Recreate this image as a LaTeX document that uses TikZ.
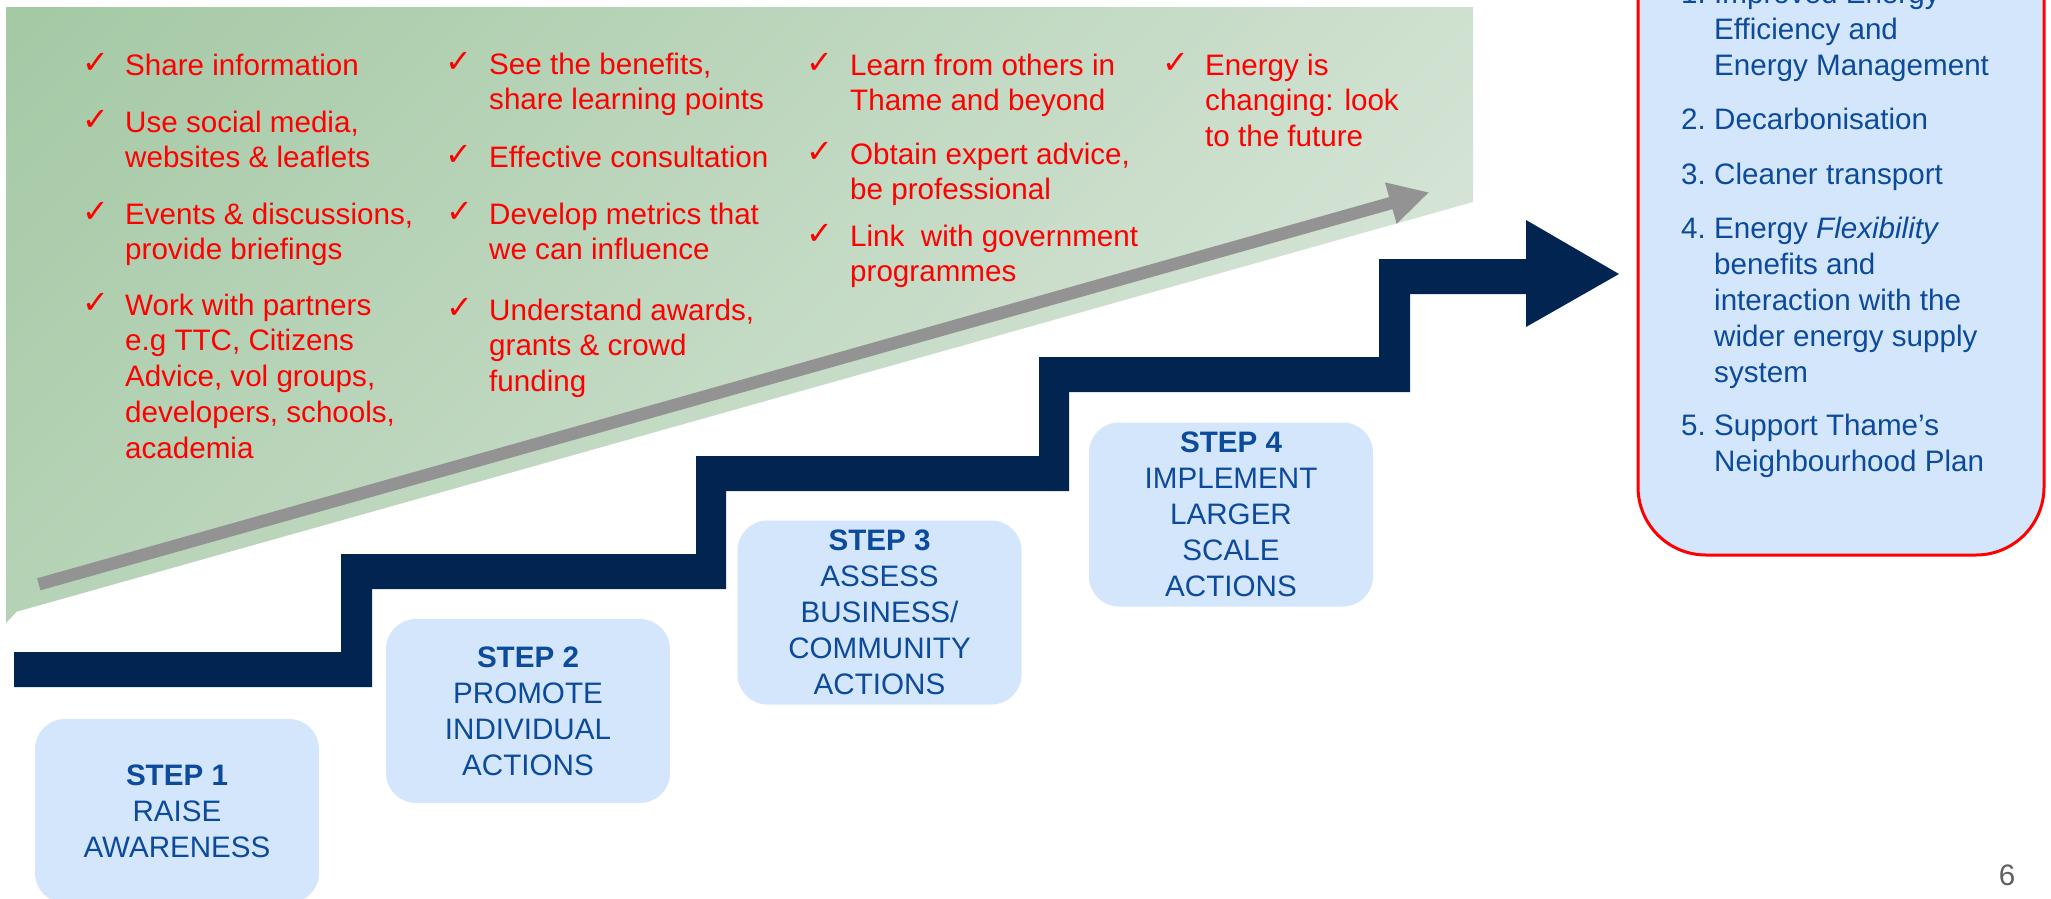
\documentclass[tikz,border=0pt]{standalone}
\usepackage{fontspec}
\setmainfont{Liberation Sans}
\newfontfamily\symfont{DejaVu Sans}
\usetikzlibrary{arrows.meta}
\definecolor{greenA}{HTML}{9AC39A}
\definecolor{greenB}{HTML}{DEE9DF}
\definecolor{navy}{HTML}{022450}
\definecolor{boxblue}{HTML}{D4E6FC}
\definecolor{txtblue}{HTML}{0C4A9B}
\definecolor{chkred}{HTML}{FF0000}
\definecolor{arrgray}{HTML}{939393}
\definecolor{pggray}{HTML}{5F5F5F}
\newcommand\stackL[1]{\vtop{\halign{##\hfil\cr#1\crcr}}}
\newcommand\stackC[1]{\vtop{\halign{\hfil##\hfil\cr#1\crcr}}}
\newcommand\numlist[1]{\vtop{\halign{\hbox to 33pt{##\hfil}&##\hfil\cr#1\crcr}}}
\tikzset{
  redtxt/.style={font=\fontsize{29.6}{35.8}\selectfont, text=chkred, anchor=base west, inner sep=0pt},
  chk/.style={font=\symfont\fontsize{32}{34}\selectfont, text=chkred, anchor=base west, inner sep=0pt},
  stepbox/.style={fill=boxblue, rounded corners=30pt, minimum width=284pt, minimum height=184pt,
    inner sep=0pt, text=txtblue, font=\fontsize{29.6}{36}\selectfont},
  goaltxt/.style={font=\fontsize{29.6}{36}\selectfont, text=txtblue, anchor=base west, inner sep=0pt}
}
\begin{document}
\begin{tikzpicture}[x=1pt,y=-1pt]
\useasboundingbox (0,0) rectangle (2051,898);
\clip (0,0) rectangle (2051,898);
% green background band (diagonal gradient)
\begin{scope}
\clip (6,7) -- (1473,7) -- (1473,202) -- (16.7,611.7) -- (6,623) -- cycle;
\shade[top color=greenA, bottom color=greenB, shading angle=45]
  (-91,-727) rectangle (1571,935);
\end{scope}
% grey arrow
\coordinate (gtail) at (38.8,584.3);
\coordinate (gtip) at (1429.3,192.3);
\draw[arrgray, line width=12.5pt, -{Triangle[length=40pt,width=40pt]}] (gtail) -- (gtip);
% staircase arrow
\fill[navy] (14,652) -- (341,652) -- (341,554) -- (696,554) -- (696,456) -- (1039,456)
  -- (1039,357) -- (1379,357) -- (1379,259) -- (1526,259) -- (1526,220) -- (1619,274)
  -- (1526,327) -- (1526,294) -- (1410,294) -- (1410,392) -- (1069,392) -- (1069,491)
  -- (726,491) -- (726,589) -- (372,589) -- (372,687) -- (14,687) -- cycle;
% checklist column 1
\node[chk] (k1a) at (82,73) {✓};
\node[redtxt] (t1a) at (125,75) {\stackL{Share information}};
\node[chk] (k1b) at (82,130) {✓};
\node[redtxt] (t1b) at (125,132) {\stackL{Use social media,\cr websites \& leaflets}};
\node[chk] (k1c) at (82,222) {✓};
\node[redtxt] (t1c) at (125,224) {\stackL{Events \& discussions,\cr provide briefings}};
\node[chk] (k1d) at (82,313) {✓};
\node[redtxt] (t1d) at (125,315) {\stackL{Work with partners\cr e.g TTC, Citizens\cr Advice, vol groups,\cr developers, schools,\cr academia}};
% checklist column 2
\node[chk] (k2a) at (445,72) {✓};
\node[redtxt] (t2a) at (489,74) {\stackL{See the benefits,\cr share learning points}};
\node[chk] (k2b) at (445,165) {✓};
\node[redtxt] (t2b) at (489,167) {\stackL{Effective consultation}};
\node[chk] (k2c) at (446,222) {✓};
\node[redtxt] (t2c) at (489,224) {\stackL{Develop metrics that\cr we can influence}};
\node[chk] (k2d) at (446,318) {✓};
\node[redtxt] (t2d) at (489,320) {\stackL{Understand awards,\cr grants \& crowd\cr funding}};
% checklist column 3
\node[chk] (k3a) at (806,73) {✓};
\node[redtxt] (t3a) at (850,75) {\stackL{Learn from others in\cr Thame and beyond}};
\node[chk] (k3b) at (806,162) {✓};
\node[redtxt] (t3b) at (850,164) {\stackL{Obtain expert advice,\cr be professional}};
\node[chk] (k3c) at (806,244) {✓};
\node[redtxt] (t3c) at (850,246) {\stackL{Link\ \ with government\cr programmes}};
% checklist column 4
\node[chk] (k4a) at (1162,73) {✓};
\node[redtxt] (t4a) at (1205,75) {\stackL{Energy is\cr changing: look\cr to the future}};
% step boxes
\node[stepbox] (s1) at (177,811) {\stackC{\textbf{STEP 1}\cr RAISE\cr AWARENESS}};
\node[stepbox] (s2) at (528,711) {\stackC{\textbf{STEP 2}\cr PROMOTE\cr INDIVIDUAL\cr ACTIONS}};
\node[stepbox] (s3) at (879.5,612.5) {\stackC{\textbf{STEP 3}\cr ASSESS\cr BUSINESS/\cr COMMUNITY\cr ACTIONS}};
\node[stepbox] (s4) at (1231,514.5) {\stackC{\textbf{STEP 4}\cr IMPLEMENT\cr LARGER\cr SCALE\cr ACTIONS}};
% goals box
\draw[chkred, line width=3pt, fill=boxblue, rounded corners=68pt] (1638,-150) rectangle (2044,555);
\node[goaltxt] (g1) at (1681,3) {\numlist{1.&Improved Energy\cr &Efficiency and\cr &Energy Management}};
\node[goaltxt] (g2) at (1681,129.5) {\numlist{2.&Decarbonisation}};
\node[goaltxt] (g3) at (1681,184) {\numlist{3.&Cleaner transport}};
\node[goaltxt] (g4) at (1681,238.6) {\numlist{4.&Energy \textit{Flexibility}\cr &benefits and\cr &interaction with the\cr &wider energy supply\cr &system}};
\node[goaltxt] (g5) at (1681,435.8) {\numlist{5.&Support Thame’s\cr &Neighbourhood Plan}};
% page number
\node[font=\fontsize{29.6}{36}\selectfont, text=pggray, inner sep=0pt] (pg) at (2007,875) {6};
\end{tikzpicture}
\end{document}
